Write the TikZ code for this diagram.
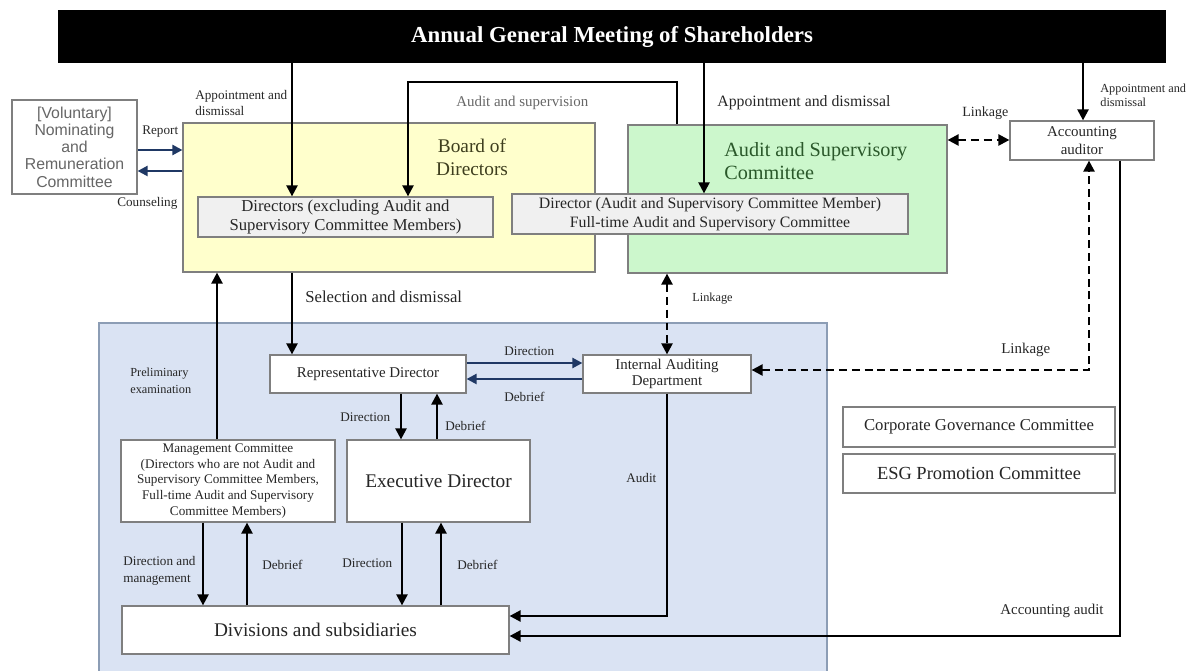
\documentclass[tikz,border=0pt]{standalone}
\usepackage{fontspec}
\setmainfont{Liberation Serif}
\newfontfamily\nrcfont{Liberation Sans}
\usetikzlibrary{positioning,arrows.meta}

\definecolor{bodfill}{HTML}{FFFFCC}
\definecolor{ascfill}{HTML}{CCF7CC}
\definecolor{opsfill}{HTML}{DAE3F3}
\definecolor{opsline}{HTML}{8C9DB5}
\definecolor{boxline}{HTML}{7F7F7F}
\definecolor{innerfill}{HTML}{F0F0F0}
\definecolor{navy}{HTML}{1F3864}
\definecolor{bodtext}{HTML}{3E3E1E}
\definecolor{asctext}{HTML}{2A582A}
\definecolor{nrctext}{HTML}{666666}

\begin{document}
\begin{tikzpicture}[x=0.02cm,y=-0.02cm,
  box/.style={draw=boxline,fill=white,line width=0.7pt,align=center,inner sep=1pt,text=black!85},
  inbox/.style={box,fill=innerfill},
  lbl/.style={inner sep=0pt,align=left,anchor=west,text=black!85,font=\fontsize{7.5}{9.5}\selectfont},
  arr/.style={line width=1.3pt,-{Triangle[length=2.2mm,width=2.2mm]}},
  navyarr/.style={arr,draw=navy,-{Triangle[length=2mm,width=2mm,fill=navy]}},
  linkarr/.style={line width=1.3pt,dash pattern=on 4.5pt off 2.8pt,
    {Triangle[length=2.2mm,width=2.2mm]}-{Triangle[length=2.2mm,width=2.2mm]}}]

\useasboundingbox (0,0) rectangle (1203,671);

% operating side
\fill[opsfill] (99,323) rectangle (827,671);
\draw[opsline,line width=0.8pt] (99,671) -- (99,323) -- (827,323) -- (827,671);

% boxes
\node[fill=black,text=white,minimum width=22.16cm,minimum height=1.06cm,
  font=\fontsize{13}{15}\selectfont\bfseries] (agm) at (612,36.5) {Annual General Meeting of Shareholders};
\node[box,minimum width=2.5cm,minimum height=1.88cm,text=nrctext,
  font=\nrcfont\fontsize{9}{9.8}\selectfont] (nrc) at (74.5,147) {[Voluntary]\\Nominating\\and\\Remuneration\\Committee};
\node[box,fill=bodfill,minimum width=8.24cm,minimum height=2.98cm] (bod) at (389,197.5) {};
\node[text=bodtext,align=center,font=\fontsize{11}{13}\selectfont] (bodname) at (472,157) {Board of\\Directors};
\node[box,fill=ascfill,minimum width=6.38cm,minimum height=2.96cm] (asc) at (787.5,199) {};
\node[text=asctext,align=left,anchor=west,inner sep=0pt,font=\fontsize{11.5}{13}\selectfont] (ascname) at (724,161) {Audit and Supervisory\\Committee};
\node[inbox,minimum width=5.9cm,minimum height=0.8cm,font=\fontsize{9.5}{11}\selectfont] (dir) at (345.5,217)
  {Directors (excluding Audit and\\Supervisory Committee Members)};
\node[inbox,minimum width=7.92cm,minimum height=0.8cm,font=\fontsize{9}{11}\selectfont] (ascdir) at (710,214)
  {Director (Audit and Supervisory Committee Member)\\Full-time Audit and Supervisory Committee};
\node[box,minimum width=2.88cm,minimum height=0.78cm,font=\fontsize{8.5}{10}\selectfont] (aud) at (1082,140.5) {Accounting\\auditor};

\node[box,minimum width=3.92cm,minimum height=0.76cm,font=\fontsize{8.5}{10}\selectfont] (rep) at (368,374) {Representative Director};
\node[box,minimum width=3.36cm,minimum height=0.76cm,font=\fontsize{8.5}{9.5}\selectfont] (iad) at (667,374) {Internal Auditing\\Department};
\node[box,minimum width=4.28cm,minimum height=1.64cm,font=\fontsize{7.5}{9}\selectfont] (mgc) at (228,481)
  {Management Committee\\(Directors who are not Audit and\\Supervisory Committee Members,\\Full-time Audit and Supervisory\\Committee Members)};
\node[box,minimum width=3.66cm,minimum height=1.64cm,font=\fontsize{11}{13}\selectfont] (exd) at (438.5,481) {Executive Director};
\node[box,minimum width=7.74cm,minimum height=0.96cm,font=\fontsize{11}{13}\selectfont] (div) at (315.5,630) {Divisions and subsidiaries};
\node[box,minimum width=5.44cm,minimum height=0.8cm,font=\fontsize{9.5}{11}\selectfont] (cgc) at (979,427) {Corporate Governance Committee};
\node[box,minimum width=5.44cm,minimum height=0.78cm,font=\fontsize{10.5}{12}\selectfont] (esg) at (979,473.5) {ESG Promotion Committee};

% columns and rows for the connectors
\coordinate (xa) at (292,0);  \coordinate (xb) at (408,0);
\coordinate (xc) at (677,0);  \coordinate (xd) at (704,0);
\coordinate (xe) at (1083,0); \coordinate (xf) at (1089,0);
\coordinate (xg) at (1120,0); \coordinate (xh) at (217,0);
\coordinate (xi) at (667,0);  \coordinate (xj) at (401,0);
\coordinate (xk) at (437,0);  \coordinate (xl) at (203,0);
\coordinate (xm) at (247,0);  \coordinate (xn) at (402,0);
\coordinate (xo) at (441,0);
\coordinate (ya) at (0,150);  \coordinate (yb) at (0,171);
\coordinate (yc) at (0,140);  \coordinate (yd) at (0,363);
\coordinate (ye) at (0,379);  \coordinate (yf) at (0,370);
\coordinate (yg) at (0,616);  \coordinate (yh) at (0,636);
\coordinate (yi) at (0,82);

% connectors
\draw[arr] (agm.south -| xa) -- (dir.north -| xa);
\draw[arr] (asc.north -| xc) -- (xc |- yi) -- (xb |- yi) -- (dir.north -| xb);
\draw[arr] (agm.south -| xd) -- (ascdir.north -| xd);
\draw[arr] (agm.south -| xe) -- (aud.north -| xe);
\draw[navyarr] (nrc.east |- ya) -- (bod.west |- ya);
\draw[navyarr] (bod.west |- yb) -- (nrc.east |- yb);
\draw[linkarr] (asc.east |- yc) -- (aud.west |- yc);
\draw[linkarr] (iad.east |- yf) -- (xf |- yf) -- (aud.south -| xf);
\draw[arr] (aud.south -| xg) -- (xg |- yh) -- (div.east |- yh);
\draw[arr] (iad.south -| xi) -- (xi |- yg) -- (div.east |- yg);
\draw[arr] (bod.south -| xa) -- (rep.north -| xa);
\draw[arr] (mgc.north -| xh) -- (bod.south -| xh);
\draw[linkarr] (asc.south -| xi) -- (iad.north -| xi);
\draw[navyarr] (rep.east |- yd) -- (iad.west |- yd);
\draw[navyarr] (iad.west |- ye) -- (rep.east |- ye);
\draw[arr] (rep.south -| xj) -- (exd.north -| xj);
\draw[arr] (exd.north -| xk) -- (rep.south -| xk);
\draw[arr] (mgc.south -| xl) -- (div.north -| xl);
\draw[arr] (div.north -| xm) -- (mgc.south -| xm);
\draw[arr] (exd.south -| xn) -- (div.north -| xn);
\draw[arr] (div.north -| xo) -- (exd.south -| xo);

% connector labels
\node[lbl] (l_app1) at (195,103) {Appointment and\\dismissal};
\node[lbl,text=black!60,font=\fontsize{8.5}{10}\selectfont] (l_sup) at (456,103) {Audit and supervision};
\node[lbl,font=\fontsize{9}{11}\selectfont] (l_app2) at (717,103) {Appointment and dismissal};
\node[lbl,font=\fontsize{7}{8}\selectfont] (l_app3) at (1100,95) {Appointment and\\dismissal};
\node[lbl] (l_rep) at (142,132) {Report};
\node[lbl] (l_cns) at (117,203) {Counseling};
\node[lbl,font=\fontsize{8}{10}\selectfont] (l_lk1) at (962,113) {Linkage};
\node[lbl,font=\fontsize{8.5}{10}\selectfont] (l_lk2) at (1001,350) {Linkage};
\node[lbl,font=\fontsize{7}{9}\selectfont] (l_lk3) at (692,299) {Linkage};
\node[lbl,font=\fontsize{9.5}{11}\selectfont] (l_sel) at (305,297) {Selection and dismissal};
\node[lbl,font=\fontsize{7}{9.5}\selectfont] (l_pre) at (130,381) {Preliminary\\examination};
\node[lbl] (l_dr1) at (504,351) {Direction};
\node[lbl] (l_db1) at (504,397) {Debrief};
\node[lbl] (l_dr2) at (340,417) {Direction};
\node[lbl] (l_db2) at (445,426) {Debrief};
\node[lbl] (l_dr3) at (123,571) {Direction and\\management};
\node[lbl] (l_db3) at (262,565) {Debrief};
\node[lbl] (l_dr4) at (342,563) {Direction};
\node[lbl] (l_db4) at (457,565) {Debrief};
\node[lbl] (l_aud) at (626,478) {Audit};
\node[lbl,font=\fontsize{8.5}{10}\selectfont] (l_acc) at (1000,611) {Accounting audit};
\end{tikzpicture}
\end{document}
